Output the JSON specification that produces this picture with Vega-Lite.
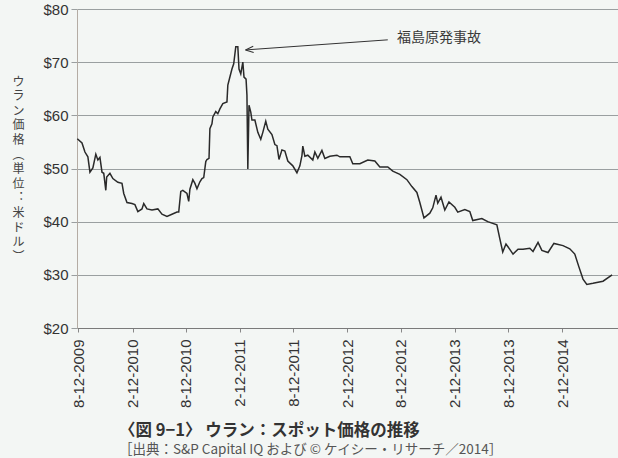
{
  "$schema": "https://vega.github.io/schema/vega-lite/v6.json",
  "width": 541,
  "height": 319,
  "autosize": {"type": "none"},
  "padding": {"left": 77, "top": 9, "right": 0, "bottom": 130},
  "background": "#f3f6f4",
  "config": {
    "view": {"stroke": null},
    "axis": {"labelFont": "Liberation Sans", "labelColor": "#333333"}
  },
  "title": {
    "text": "〈図 9−1〉 ウラン：スポット価格の推移",
    "subtitle": "［出典：S&P Capital IQ および © ケイシー・リサーチ／2014］",
    "orient": "bottom",
    "anchor": "start",
    "frame": "group",
    "dx": 42,
    "offset": 16,
    "font": "Noto Sans CJK JP",
    "fontSize": 16.5,
    "fontWeight": "bold",
    "color": "#333333",
    "subtitleFont": "Noto Sans CJK JP",
    "subtitleFontSize": 13.5,
    "subtitleColor": "#555555",
    "subtitlePadding": 3.5
  },
  "datasets": {
    "uranium": [
      {"date": "2009-08-08", "price": 55.6},
      {"date": "2009-08-24", "price": 54.8},
      {"date": "2009-09-03", "price": 53.1},
      {"date": "2009-09-13", "price": 52.2},
      {"date": "2009-09-20", "price": 49.3},
      {"date": "2009-09-30", "price": 50.1},
      {"date": "2009-10-10", "price": 52.7},
      {"date": "2009-10-17", "price": 51.6},
      {"date": "2009-10-24", "price": 52.1},
      {"date": "2009-10-31", "price": 49.3},
      {"date": "2009-11-06", "price": 49.1},
      {"date": "2009-11-13", "price": 45.9},
      {"date": "2009-11-16", "price": 48.4},
      {"date": "2009-11-27", "price": 49.1},
      {"date": "2009-12-07", "price": 48.1},
      {"date": "2009-12-24", "price": 47.4},
      {"date": "2010-01-07", "price": 47.2},
      {"date": "2010-01-13", "price": 45.3},
      {"date": "2010-01-24", "price": 43.6},
      {"date": "2010-02-10", "price": 43.4},
      {"date": "2010-02-20", "price": 43.2},
      {"date": "2010-03-02", "price": 41.9},
      {"date": "2010-03-16", "price": 42.4},
      {"date": "2010-03-22", "price": 43.4},
      {"date": "2010-04-02", "price": 42.4},
      {"date": "2010-04-19", "price": 42.2},
      {"date": "2010-05-09", "price": 42.4},
      {"date": "2010-05-23", "price": 41.4},
      {"date": "2010-06-09", "price": 41.0},
      {"date": "2010-06-26", "price": 41.4},
      {"date": "2010-07-13", "price": 41.8},
      {"date": "2010-07-19", "price": 41.8},
      {"date": "2010-07-26", "price": 45.7},
      {"date": "2010-08-02", "price": 45.9},
      {"date": "2010-08-16", "price": 45.3},
      {"date": "2010-08-22", "price": 43.8},
      {"date": "2010-08-26", "price": 46.1},
      {"date": "2010-09-05", "price": 47.9},
      {"date": "2010-09-12", "price": 47.2},
      {"date": "2010-09-19", "price": 46.2},
      {"date": "2010-09-29", "price": 47.5},
      {"date": "2010-10-06", "price": 48.1},
      {"date": "2010-10-12", "price": 48.3},
      {"date": "2010-10-19", "price": 51.3},
      {"date": "2010-10-23", "price": 51.7},
      {"date": "2010-10-30", "price": 51.9},
      {"date": "2010-11-02", "price": 57.5},
      {"date": "2010-11-09", "price": 58.4},
      {"date": "2010-11-12", "price": 59.7},
      {"date": "2010-11-22", "price": 60.7},
      {"date": "2010-11-29", "price": 60.3},
      {"date": "2010-12-06", "price": 61.2},
      {"date": "2010-12-16", "price": 62.2},
      {"date": "2010-12-30", "price": 62.5},
      {"date": "2011-01-02", "price": 65.7},
      {"date": "2011-01-09", "price": 67.2},
      {"date": "2011-01-16", "price": 68.7},
      {"date": "2011-01-22", "price": 69.7},
      {"date": "2011-01-29", "price": 72.9},
      {"date": "2011-02-05", "price": 72.9},
      {"date": "2011-02-09", "price": 68.7},
      {"date": "2011-02-15", "price": 67.8},
      {"date": "2011-02-22", "price": 70.0},
      {"date": "2011-02-26", "price": 67.2},
      {"date": "2011-03-05", "price": 66.8},
      {"date": "2011-03-08", "price": 63.8},
      {"date": "2011-03-11", "price": 49.9},
      {"date": "2011-03-15", "price": 61.9},
      {"date": "2011-03-21", "price": 60.6},
      {"date": "2011-03-25", "price": 59.1},
      {"date": "2011-04-04", "price": 59.1},
      {"date": "2011-04-14", "price": 56.8},
      {"date": "2011-04-24", "price": 55.5},
      {"date": "2011-05-01", "price": 56.8},
      {"date": "2011-05-11", "price": 58.9},
      {"date": "2011-05-18", "price": 57.4},
      {"date": "2011-06-01", "price": 56.4},
      {"date": "2011-06-11", "price": 54.5},
      {"date": "2011-06-18", "price": 54.3},
      {"date": "2011-06-25", "price": 51.7},
      {"date": "2011-07-05", "price": 53.5},
      {"date": "2011-07-15", "price": 53.3},
      {"date": "2011-07-25", "price": 51.4},
      {"date": "2011-08-11", "price": 50.5},
      {"date": "2011-08-25", "price": 49.2},
      {"date": "2011-09-04", "price": 50.5},
      {"date": "2011-09-11", "price": 52.4},
      {"date": "2011-09-14", "price": 54.2},
      {"date": "2011-09-21", "price": 52.3},
      {"date": "2011-10-01", "price": 52.5},
      {"date": "2011-10-18", "price": 51.6},
      {"date": "2011-10-25", "price": 53.1},
      {"date": "2011-11-04", "price": 51.9},
      {"date": "2011-11-18", "price": 53.4},
      {"date": "2011-11-28", "price": 51.9},
      {"date": "2011-12-15", "price": 52.3},
      {"date": "2012-01-08", "price": 52.5},
      {"date": "2012-01-18", "price": 52.2},
      {"date": "2012-02-21", "price": 52.2},
      {"date": "2012-03-02", "price": 50.9},
      {"date": "2012-03-26", "price": 50.9},
      {"date": "2012-04-22", "price": 51.6},
      {"date": "2012-05-16", "price": 51.4},
      {"date": "2012-06-02", "price": 50.3},
      {"date": "2012-06-29", "price": 50.3},
      {"date": "2012-07-16", "price": 49.5},
      {"date": "2012-08-09", "price": 48.9},
      {"date": "2012-09-02", "price": 47.9},
      {"date": "2012-09-19", "price": 46.6},
      {"date": "2012-10-06", "price": 45.5},
      {"date": "2012-10-16", "price": 43.6},
      {"date": "2012-10-30", "price": 40.7},
      {"date": "2012-11-19", "price": 41.6},
      {"date": "2012-11-29", "price": 42.6},
      {"date": "2012-12-10", "price": 45.0},
      {"date": "2012-12-16", "price": 43.5},
      {"date": "2012-12-27", "price": 44.6},
      {"date": "2013-01-09", "price": 42.2},
      {"date": "2013-01-23", "price": 43.7},
      {"date": "2013-02-12", "price": 42.7},
      {"date": "2013-02-22", "price": 41.8},
      {"date": "2013-03-18", "price": 42.3},
      {"date": "2013-04-04", "price": 41.9},
      {"date": "2013-04-14", "price": 40.2},
      {"date": "2013-05-15", "price": 40.6},
      {"date": "2013-06-04", "price": 40.0},
      {"date": "2013-07-05", "price": 39.4},
      {"date": "2013-07-15", "price": 36.8},
      {"date": "2013-07-25", "price": 34.3},
      {"date": "2013-08-05", "price": 35.8},
      {"date": "2013-08-18", "price": 34.8},
      {"date": "2013-08-29", "price": 33.9},
      {"date": "2013-09-15", "price": 34.8},
      {"date": "2013-10-02", "price": 34.8},
      {"date": "2013-10-25", "price": 35.0},
      {"date": "2013-11-05", "price": 34.4},
      {"date": "2013-11-22", "price": 36.1},
      {"date": "2013-12-05", "price": 34.6},
      {"date": "2013-12-26", "price": 34.2},
      {"date": "2014-01-15", "price": 35.9},
      {"date": "2014-02-15", "price": 35.5},
      {"date": "2014-03-10", "price": 34.9},
      {"date": "2014-03-27", "price": 33.9},
      {"date": "2014-04-10", "price": 31.5},
      {"date": "2014-04-24", "price": 29.2},
      {"date": "2014-05-07", "price": 28.2},
      {"date": "2014-05-28", "price": 28.4},
      {"date": "2014-07-01", "price": 28.8},
      {"date": "2014-08-01", "price": 30.0}
    ],
    "arrow": [
      {"date": "2012-06-29", "price": 74.2, "date2": "2011-03-03", "price2": 72.3}
    ],
    "arrowhead": [
      {"date": "2011-03-03", "price": 72.3}
    ],
    "label": [
      {"date": "2012-07-30", "price": 74.6, "text": "福島原発事故"}
    ]
  },
  "encoding": {
    "x": {
      "field": "date",
      "type": "temporal",
      "scale": {
        "type": "utc",
        "domain": [
          {"year": 2009, "month": 8, "date": 7, "utc": true},
          {"year": 2014, "month": 8, "date": 21, "utc": true}
        ]
      },
      "axis": {
        "title": null,
        "values": [
          {"year": 2009, "month": 8, "date": 12, "utc": true},
          {"year": 2010, "month": 2, "date": 12, "utc": true},
          {"year": 2010, "month": 8, "date": 12, "utc": true},
          {"year": 2011, "month": 2, "date": 12, "utc": true},
          {"year": 2011, "month": 8, "date": 12, "utc": true},
          {"year": 2012, "month": 2, "date": 12, "utc": true},
          {"year": 2012, "month": 8, "date": 12, "utc": true},
          {"year": 2013, "month": 2, "date": 12, "utc": true},
          {"year": 2013, "month": 8, "date": 12, "utc": true},
          {"year": 2014, "month": 2, "date": 12, "utc": true}
        ],
        "format": "%-m-%d-%Y",
        "labelAngle": 270,
        "labelAlign": "right",
        "labelBaseline": "middle",
        "labelFontSize": 15,
        "labelPadding": 7,
        "tickSize": 4,
        "tickColor": "#888888",
        "domainColor": "#7a7a7a",
        "grid": false,
        "labelOverlap": false
      }
    },
    "y": {
      "field": "price",
      "type": "quantitative",
      "scale": {"domain": [20, 80], "nice": false, "zero": false},
      "axis": {
        "values": [20, 30, 40, 50, 60, 70, 80],
        "labelExpr": "'$' + datum.value",
        "labelFontSize": 15,
        "labelPadding": 3,
        "tickSize": 6,
        "tickColor": "#9a9fa0",
        "grid": true,
        "gridColor": "#9a9fa0",
        "gridWidth": 1,
        "domainColor": "#b4aca4",
        "title": ["ウ", "ラ", "ン", "価", "格", "︵", "単", "位", "︓", "米", "ド", "ル", "︶"],
        "titleAngle": 0,
        "titleX": -59,
        "titleY": 72,
        "titleAlign": "center",
        "titleBaseline": "middle",
        "titleLineHeight": 14.6,
        "titleFont": "Noto Sans CJK JP",
        "titleFontSize": 12,
        "titleFontWeight": "normal",
        "titleColor": "#444444"
      }
    }
  },
  "layer": [
    {
      "data": {"name": "uranium"},
      "mark": {"type": "line", "color": "#2a2a2a", "strokeWidth": 1.5}
    },
    {
      "data": {"name": "arrow"},
      "mark": {"type": "rule", "color": "#333333", "strokeWidth": 1},
      "encoding": {
        "x2": {"field": "date2"},
        "y2": {"field": "price2"}
      }
    },
    {
      "data": {"name": "arrowhead"},
      "mark": {
        "type": "point",
        "shape": "M0,0L1,-0.4M0,0L1,0.4",
        "filled": false,
        "size": 256,
        "angle": 356,
        "color": "#333333",
        "strokeWidth": 1,
        "opacity": 1
      }
    },
    {
      "data": {"name": "label"},
      "mark": {
        "type": "text",
        "align": "left",
        "baseline": "middle",
        "font": "Noto Sans CJK JP",
        "fontSize": 14,
        "color": "#3a3a3a"
      },
      "encoding": {"text": {"field": "text"}}
    }
  ]
}
